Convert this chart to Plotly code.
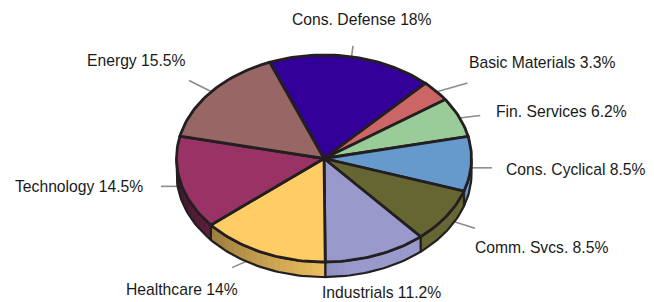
import math
import plotly.graph_objects as go

# ---- data ----
labels = ["Cons. Defense", "Basic Materials", "Fin. Services", "Cons. Cyclical",
          "Comm. Svcs.", "Industrials", "Healthcare", "Technology", "Energy"]
values = [18, 3.3, 6.2, 8.5, 8.5, 11.2, 14, 14.5, 15.5]
colors = ["#330099", "#cc6666", "#99cc99", "#6699cc", "#666633",
          "#9999cc", "#ffcc66", "#993366", "#996666"]

# ---- layout (pixel space) ----
W, H = 654, 302
PAGE_OFF = 8          # default body margin of the html page
CX, CY = 324, 158.5
RX, RY = 147.5, 103.5
DEPTH = 15
START = -21.6  # degrees, clockwise from top
OUTLINE = "#231f20"

# leader line vector (from pie edge) and text anchor offset (from leader end)
leader_off = [(2, -14), (35, -10), (25, -3), (25, 0), (32, 10),
              (3, 12), (-32, 14), (-24, 0), (-26, -13)]
text_off = [(9, -26, "center"), (-1, -21, "left"), (14, -4, "left"),
            (12, 2, "left"), (-2, 19, "left"), (4, 24, "center"),
            (-50, 22, "center"), (-16, 0, "right"), (-1, -20, "right")]


def pt(theta_deg, r=1.0, dy=0.0):
    t = math.radians(theta_deg)
    return CX + RX * r * math.sin(t), CY - RY * r * math.cos(t) + dy


def arc(a, b, n=None, dy=0.0):
    if n is None:
        n = max(2, int(abs(b - a) / 1.5))
    return [pt(a + (b - a) * i / n, dy=dy) for i in range(n + 1)]


def shade(hexc, f):
    hexc = hexc.lstrip("#")
    r, g, b = (int(hexc[i:i + 2], 16) for i in (0, 2, 4))
    return "rgb(%d,%d,%d)" % (min(255, r * f), min(255, g * f), min(255, b * f))


def side_factor(theta):
    if theta <= 170:
        return 1.0
    return 1.0 - 0.65 * (theta - 170) / 100.0


total = sum(values)
bounds = []
acc = START
for v in values:
    a = acc
    acc += v / total * 360.0
    bounds.append((a, acc))

fig = go.Figure()

# leader lines (behind the pie)
ann = []
for i, (lab, v, (a, b)) in enumerate(zip(labels, values, bounds)):
    m = (a + b) / 2
    c = math.cos(math.radians(m))
    x0, y0 = pt(m, r=0.97, dy=(4 if c < 0 else 0))
    lx, ly = leader_off[i]
    x1, y1 = x0 + lx, y0 + ly
    fig.add_trace(go.Scatter(x=[x0, x1], y=[y0, y1], mode="lines",
                             line=dict(color="#8c8c8c", width=1.6),
                             hoverinfo="skip"))
    tx, ty, xa = text_off[i]
    ann.append(dict(x=x1 + tx, y=y1 + ty, xref="x", yref="y",
                    text=f"{lab} {v:g}%", showarrow=False,
                    xanchor=xa, yanchor="middle",
                    font=dict(family="Liberation Sans, Arial, sans-serif",
                              size=15.7, color="#1a1a1a")))

# side walls (front half only: 90..270 deg), shaded in thin strips
for col, (a, b) in zip(colors, bounds):
    for off in (0, 360, -360):
        aa, bb = max(a + off, 90), min(b + off, 270)
        if bb > aa:
            n = max(1, int((bb - aa) / 2.5))
            for k in range(n):
                s0 = aa + (bb - aa) * k / n
                s1 = aa + (bb - aa) * (k + 1) / n
                fc = shade(col, side_factor((s0 + s1) / 2))
                top = arc(s0, s1, n=2)
                bot = arc(s1, s0, n=2, dy=DEPTH)
                poly = top + bot + [top[0]]
                fig.add_trace(go.Scatter(x=[p[0] for p in poly],
                                         y=[p[1] for p in poly],
                                         mode="lines", fill="toself",
                                         fillcolor=fc,
                                         line=dict(color=fc, width=0.8),
                                         hoverinfo="skip"))
            top = arc(aa, bb)
            bot = arc(bb, aa, dy=DEPTH)
            poly = top + bot + [top[0]]
            fig.add_trace(go.Scatter(x=[p[0] for p in poly], y=[p[1] for p in poly],
                                     mode="lines",
                                     line=dict(color=OUTLINE, width=2.2),
                                     hoverinfo="skip"))

# top faces
for col, (a, b) in zip(colors, bounds):
    poly = [(CX, CY)] + arc(a, b) + [(CX, CY)]
    fig.add_trace(go.Scatter(x=[p[0] for p in poly], y=[p[1] for p in poly],
                             mode="lines", fill="toself", fillcolor=col,
                             line=dict(color=OUTLINE, width=2.8),
                             hoverinfo="skip"))

# figure sized so that it fits the window exactly after the page margin
fig.update_layout(
    width=W - PAGE_OFF, height=H - PAGE_OFF, margin=dict(l=0, r=0, t=0, b=0),
    paper_bgcolor="white", plot_bgcolor="white", showlegend=False,
    annotations=ann,
    xaxis=dict(range=[PAGE_OFF, W], visible=False, fixedrange=True),
    yaxis=dict(range=[H, PAGE_OFF], visible=False, fixedrange=True),
)

fig.write_html("out.html")
